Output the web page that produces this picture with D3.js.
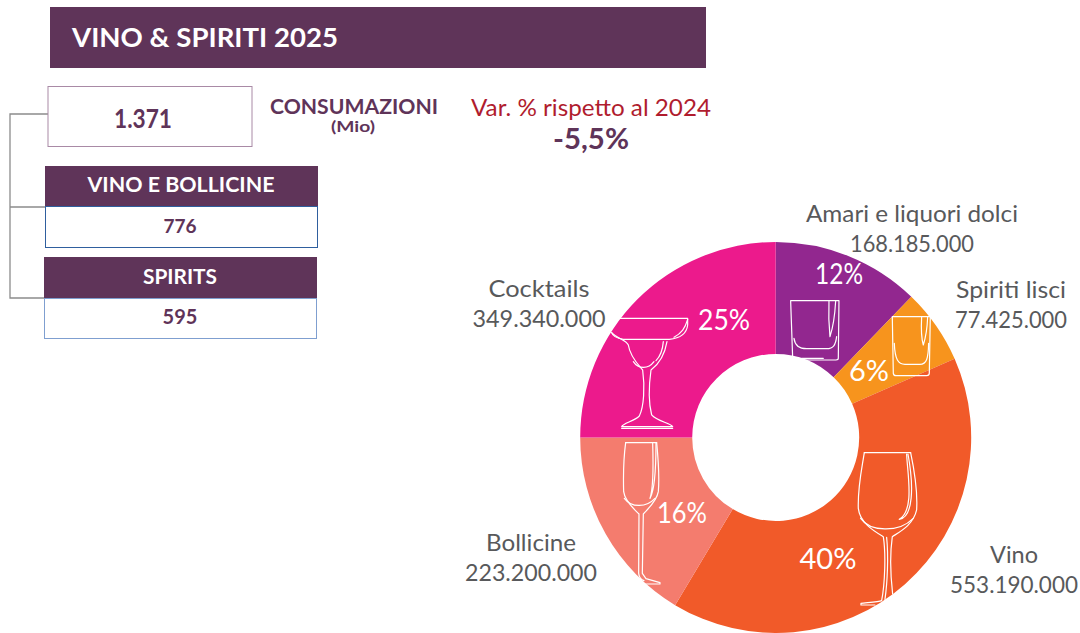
<!DOCTYPE html>
<html><head><meta charset="utf-8">
<script src="https://cdn.jsdelivr.net/npm/d3@7"></script>
<style>html,body{margin:0;padding:0;background:#fff}svg{display:block}text{font-family:Lato,sans-serif}</style>
</head><body><div id="chart"></div>
<script>
const categories=["Amari e liquori dolci","Spiriti lisci","Vino","Bollicine","Cocktails"];
const quoteFetta=[12.2,6.2,40.2,16.4,25];
const percentuali=["12%","6%","40%","16%","25%"];
const valoreEtichette=["168.185.000","77.425.000","553.190.000","223.200.000","349.340.000"];
const colori=["#92278f","#f7941d","#f15a29","#f47c6e","#ec1a8c"];

const PURPLE="#5f3459",GREY="#58595b";
const svg=d3.select("#chart").append("svg").attr("width",1080).attr("height",633);

svg.append("path").attr("fill","none").attr("stroke","#8c8c8c").attr("stroke-width",1.3)
 .attr("d","M48,114H10V298H44M10,207H48");

function box(x,y,w,h,fill,stroke){svg.append("rect").attr("x",x).attr("y",y).attr("width",w).attr("height",h).attr("fill",fill).attr("stroke",stroke||"none");}
function txt(s,x,y,size,weight,color,anchor,len){
 const t=svg.append("text").attr("x",x).attr("y",y).attr("font-size",size).attr("font-weight",weight).attr("fill",color).attr("text-anchor",anchor||"middle").text(s);
 if(len) t.attr("textLength",len).attr("lengthAdjust","spacingAndGlyphs");
 return t;
}

box(50,7,656,61,PURPLE);
txt("VINO & SPIRITI 2025",72,47,27,700,"#fff","start",266);
box(48,86.5,204,60,"#fff","#a98aa6");
txt("1.371",143,128,26,700,PURPLE,"middle",58);
txt("CONSUMAZIONI",354,114,21,700,PURPLE,"middle",168);
txt("(Mio)",353,132,16,700,PURPLE,"middle",44);
txt("Var. % rispetto al 2024",591,116,24,400,"#b01c2e","middle",240);
txt("-5,5%",591,149,29,700,PURPLE,"middle",76);
box(45,166,273,40,PURPLE);
txt("VINO E BOLLICINE",181,192,21,700,"#fff","middle",187);
box(45.5,206.5,272,41,"#fff","#2f5f9e");
txt("776",180,233,19,700,PURPLE);
box(44,257,273,41,PURPLE);
txt("SPIRITS",180,284,21,700,"#fff","middle",74);
box(44.5,298.5,272,40,"#fff","#7f9fd0");
txt("595",180,324,20,700,PURPLE);

const cx=775.7,cy=437.5,R=195.5,r=83.5;
const pie=d3.pie().sort(null).value(d=>d);
const arc=d3.arc().innerRadius(r).outerRadius(R);
const g=svg.append("g").attr("transform",`translate(${cx},${cy})`);
g.selectAll("path").data(pie(quoteFetta)).join("path").attr("d",arc).attr("fill",(d,i)=>colori[i]);

const icons=svg.append("g").attr("fill","none").attr("stroke","#fff").attr("stroke-linejoin","round").attr("stroke-linecap","round");
const top3=icons.append("g").attr("transform","translate(570,230) scale(0.3333)").attr("stroke-width",3.6);
const bot3=icons.append("g").attr("transform","translate(570,430) scale(0.3333)").attr("stroke-width",3.6);
[
 "M150,265H353V285C350,312 330,325 298,328H160C140,325 128,318 125,308",
 "M125,308C140,325 170,330 175,345C180,380 205,405 218,420C225,470 222,530 208,558C192,575 160,578 155,590H308C300,578 262,575 245,555C236,520 236,470 243,420C270,400 285,370 291,335",
 "M155,595H308","M190,395C205,418 235,418 252,395","M280,335C278,360 270,380 258,392","M353,268C345,295 335,310 312,322",
 "M662,212H807L805,385Q805,390 798,390H675Q668,390 668,383Z",
 "M672,325C675,348 690,356 710,356H770C790,356 797,345 800,320",
 "M777,214C775,260 778,300 780,320C790,290 795,250 797,214","M695,385H760",
 "M967,260H1081L1078,430Q1078,437 1070,437H978Q971,437 970,430Z",
 "M973,340C975,390 985,403 1005,403H1050C1070,403 1075,385 1076,340",
 "M1055,262C1053,300 1057,335 1060,345C1068,320 1072,290 1073,262"
].forEach(d=>top3.append("path").attr("d",d));
[
 "M167,38C160,90 160,150 161,185C165,215 195,240 207,252L206,430C208,445 215,450 222,452",
 "M260,38C266,100 268,150 265,185C260,215 230,240 220,252L217,430L228,446L270,458V462H215",
 "M167,38H260","M163,205C185,235 230,232 255,205","M248,40C250,100 252,170 240,205C255,180 258,100 258,40",
 "M883,68C875,120 863,170 865,235C870,280 915,305 940,320C948,370 945,460 935,512C925,516 885,518 873,520V525H915",
 "M1022,68C1035,130 1043,190 1040,240C1030,285 990,305 967,320C960,370 962,440 968,492",
 "M883,68H1022","M872,265C900,305 985,310 1030,265","M950,322C956,380 952,460 945,508",
 "M1010,72C1012,130 1035,240 988,268C1030,262 1032,170 1014,72"
].forEach(d=>bot3.append("path").attr("d",d));

const pctPos=[[839,284],[869,381],[828,569],[682,523],[724,330]];
const pctLen=[48,40,57,50,52];
const labelPos=[[912,222],[1011,298],[1014,563],[531,551],[539,297]];
const nameLen=[212,110,48,90,101];
const valLen=[124,112,128,132,133];
categories.forEach((c,i)=>{
 txt(percentuali[i],pctPos[i][0],pctPos[i][1],28,400,"#fff","middle",pctLen[i]);
 txt(c,labelPos[i][0],labelPos[i][1],23,400,GREY,"middle",nameLen[i]);
 txt(valoreEtichette[i],labelPos[i][0],labelPos[i][1]+30,23,400,GREY,"middle",valLen[i]);
});
</script></body></html>
